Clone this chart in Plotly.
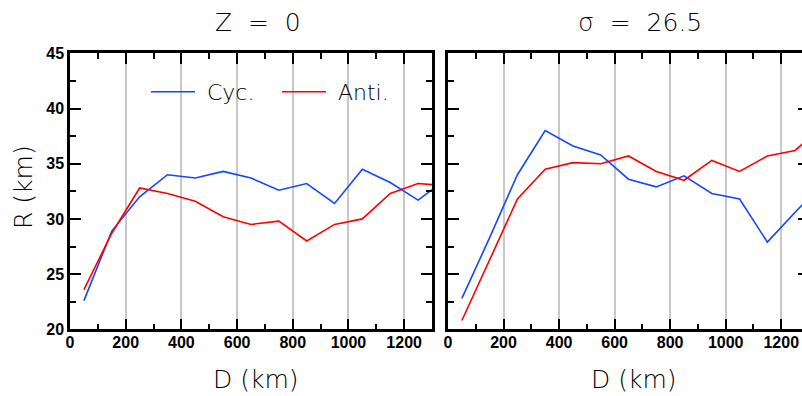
import plotly.graph_objects as go

# Mean radius R (km) against distance D (km), cyclonic vs anticyclonic
distance_km = [50, 150, 250, 350, 450, 550, 650, 750, 850, 950, 1050, 1150, 1250, 1350]
cyc_z0 = [22.6, 28.9, 32.0, 34.0, 33.7, 34.3, 33.7, 32.6, 33.2, 31.4, 34.5, 33.3, 31.7, 33.6]
anti_z0 = [23.6, 28.7, 32.8, 32.3, 31.6, 30.2, 29.5, 29.8, 28.0, 29.5, 30.0, 32.3, 33.2, 33.0]
cyc_sigma = [22.8, 28.3, 34.0, 38.0, 36.6, 35.8, 33.6, 32.9, 33.9, 32.3, 31.8, 27.9, 30.6, 33.2]
anti_sigma = [20.8, 26.3, 31.8, 34.5, 35.1, 35.0, 35.7, 34.3, 33.5, 35.3, 34.3, 35.7, 36.2, 38.4]

panel_titles = ["Z\u00a0\u00a0=\u00a0\u00a00", "σ\u00a0\u00a0=\u00a0\u00a026.5"]
series_names = ["\u00a0Cyc.", "\u00a0Anti."]
x_title = "D (km)"
y_title = "R (km)"
x_ticks = [0, 200, 400, 600, 800, 1000, 1200]
y_ticks = [20, 25, 30, 35, 40, 45]

W, H = 812, 396
BLUE = "#1447ff"
RED = "#ff0000"
LIGHT = dict(family="DejaVu Sans", size=25, color="black", weight=200)


def px_x(p):
    return p / W


def px_y(p):
    return 1 - p / H


fig = go.Figure()
fig.add_trace(go.Scatter(x=distance_km, y=cyc_z0, mode="lines", name=series_names[0],
                         line=dict(color=BLUE, width=1.6), xaxis="x", yaxis="y"))
fig.add_trace(go.Scatter(x=distance_km, y=anti_z0, mode="lines", name=series_names[1],
                         line=dict(color=RED, width=1.6), xaxis="x", yaxis="y"))
fig.add_trace(go.Scatter(x=distance_km, y=cyc_sigma, mode="lines", showlegend=False,
                         line=dict(color=BLUE, width=1.6), xaxis="x2", yaxis="y2"))
fig.add_trace(go.Scatter(x=distance_km, y=anti_sigma, mode="lines", showlegend=False,
                         line=dict(color=RED, width=1.6), xaxis="x2", yaxis="y2"))

tick_font = dict(family="Liberation Sans", size=16, color="black", weight="bold")
common = dict(showline=True, linecolor="black", linewidth=2.5, mirror="allticks",
              ticks="inside", ticklen=11, tickwidth=2, tickcolor="black",
              zeroline=False, tickfont=tick_font, automargin=False)

xcommon = dict(common, range=[0, 1300], tickvals=x_ticks, showgrid=True,
               gridcolor="#c8c8c8", gridwidth=1.5, ticklabelstandoff=-3,
               minor=dict(tick0=0, dtick=100, ticks="inside", ticklen=6,
                          tickwidth=2, tickcolor="black", showgrid=False))
ycommon = dict(common, range=[20, 45], tickvals=y_ticks, showgrid=False,
               minor=dict(tick0=20, dtick=2.5, ticks="inside", ticklen=6,
                          tickwidth=2, tickcolor="black", showgrid=False))

y_dom = [px_y(329.3), px_y(53.3)]

fig.update_layout(
    width=W, height=H,
    margin=dict(l=0, r=0, t=0, b=0, autoexpand=False),
    plot_bgcolor="white", paper_bgcolor="white",
    xaxis=dict(xcommon, domain=[px_x(70), px_x(432)], anchor="y"),
    yaxis=dict(ycommon, domain=y_dom, anchor="x"),
    xaxis2=dict(xcommon, domain=[px_x(448), px_x(809)], anchor="y2"),
    yaxis2=dict(ycommon, domain=y_dom, anchor="x2", showticklabels=False),
    legend=dict(orientation="h", x=px_x(146), y=px_y(92), xanchor="left", yanchor="middle",
                itemwidth=44, entrywidth=72, entrywidthmode="pixels",
                bgcolor="rgba(0,0,0,0)", font=dict(LIGHT, size=22)),
    showlegend=True,
)

annotations = [
    dict(text=panel_titles[0], x=px_x(257.5), y=px_y(22), yanchor="middle"),
    dict(text=panel_titles[1], x=px_x(640), y=px_y(22), yanchor="middle"),
    dict(text=x_title, x=px_x(256), y=px_y(396), yanchor="bottom"),
    dict(text=x_title, x=px_x(634), y=px_y(396), yanchor="bottom"),
    dict(text=y_title, x=px_x(23), y=px_y(187), yanchor="middle", textangle=-90),
]
for a in annotations:
    fig.add_annotation(xref="paper", yref="paper", showarrow=False,
                       xanchor="center", font=LIGHT, **a)

fig.write_html(
    "out.html",
    post_script="document.documentElement.style.overflow='hidden';"
                "document.body.style.overflow='hidden';document.body.style.margin='0';",
)
